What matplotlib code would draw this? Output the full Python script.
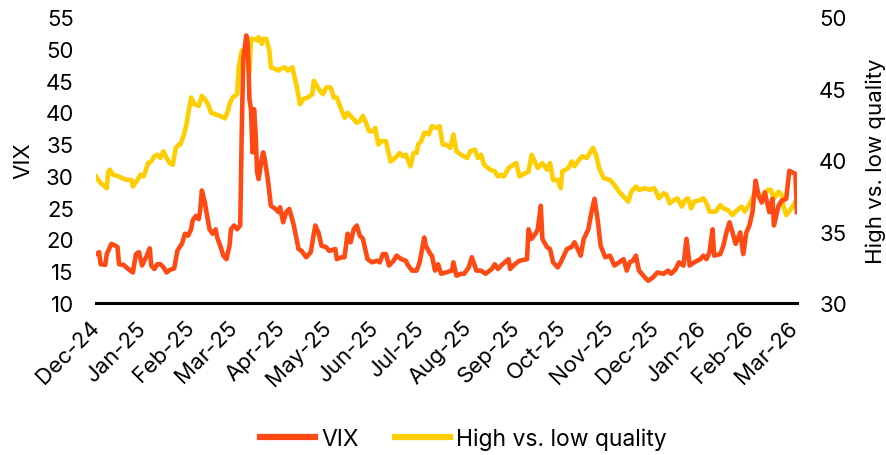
import matplotlib
matplotlib.use("Agg")
import matplotlib.pyplot as plt
import pandas as pd

# VIX (left axis)
vix_dates = [
  "2024-12-01", "2024-12-03", "2024-12-04", "2024-12-07", "2024-12-08", "2024-12-11", "2024-12-13",
  "2024-12-15", "2024-12-16", "2024-12-19", "2024-12-22", "2024-12-25", "2024-12-27", "2024-12-29",
  "2024-12-31", "2025-01-03", "2025-01-05", "2025-01-06", "2025-01-08", "2025-01-10", "2025-01-12",
  "2025-01-14", "2025-01-16", "2025-01-18", "2025-01-21", "2025-01-23", "2025-01-25", "2025-01-26",
  "2025-01-28", "2025-01-30", "2025-02-01", "2025-02-02", "2025-02-04", "2025-02-06", "2025-02-07",
  "2025-02-08", "2025-02-10", "2025-02-11", "2025-02-13", "2025-02-15", "2025-02-17", "2025-02-18",
  "2025-02-20", "2025-02-22", "2025-02-24", "2025-02-26", "2025-02-27", "2025-03-01", "2025-03-03",
  "2025-03-05", "2025-03-06", "2025-03-07", "2025-03-09", "2025-03-10", "2025-03-11", "2025-03-12",
  "2025-03-13", "2025-03-14", "2025-03-15", "2025-03-16", "2025-03-17", "2025-03-19", "2025-03-20",
  "2025-03-21", "2025-03-23", "2025-03-25", "2025-03-28", "2025-03-30", "2025-03-31", "2025-04-02",
  "2025-04-04", "2025-04-06", "2025-04-09", "2025-04-12", "2025-04-14", "2025-04-17", "2025-04-20",
  "2025-04-22", "2025-04-23", "2025-04-25", "2025-04-27", "2025-04-30", "2025-05-02", "2025-05-06",
  "2025-05-07", "2025-05-10", "2025-05-12", "2025-05-14", "2025-05-16", "2025-05-18", "2025-05-20",
  "2025-05-22", "2025-05-24", "2025-05-27", "2025-05-30", "2025-06-02", "2025-06-04", "2025-06-06",
  "2025-06-08", "2025-06-10", "2025-06-13", "2025-06-15", "2025-06-18", "2025-06-21", "2025-06-22",
  "2025-06-25", "2025-06-28", "2025-06-30", "2025-07-03", "2025-07-04", "2025-07-07", "2025-07-08",
  "2025-07-10", "2025-07-12", "2025-07-14", "2025-07-17", "2025-07-21", "2025-07-22", "2025-07-24",
  "2025-07-27", "2025-07-29", "2025-08-01", "2025-08-03", "2025-08-06", "2025-08-09", "2025-08-12",
  "2025-08-16", "2025-08-18", "2025-08-20", "2025-08-23", "2025-08-27", "2025-08-28", "2025-08-31",
  "2025-09-03", "2025-09-08", "2025-09-09", "2025-09-11", "2025-09-14", "2025-09-15", "2025-09-17",
  "2025-09-18", "2025-09-21", "2025-09-23", "2025-09-25", "2025-09-28", "2025-09-30", "2025-10-02",
  "2025-10-04", "2025-10-07", "2025-10-09", "2025-10-11", "2025-10-13", "2025-10-15", "2025-10-18",
  "2025-10-20", "2025-10-22", "2025-10-24", "2025-10-26", "2025-10-29", "2025-11-01", "2025-11-04",
  "2025-11-07", "2025-11-10", "2025-11-12", "2025-11-14", "2025-11-16", "2025-11-18", "2025-11-20",
  "2025-11-24", "2025-11-26", "2025-11-29", "2025-12-02", "2025-12-06", "2025-12-09", "2025-12-11",
  "2025-12-14", "2025-12-16", "2025-12-19", "2025-12-21", "2025-12-23", "2025-12-26", "2025-12-30",
  "2026-01-01", "2026-01-03", "2026-01-05", "2026-01-07", "2026-01-08", "2026-01-12", "2026-01-14",
  "2026-01-16", "2026-01-18", "2026-01-20", "2026-01-22", "2026-01-25", "2026-01-27", "2026-01-29",
  "2026-01-31", "2026-02-02", "2026-02-04", "2026-02-06", "2026-02-08", "2026-02-10", "2026-02-13",
  "2026-02-15", "2026-02-16", "2026-02-19", "2026-02-21", "2026-02-24", "2026-02-26", "2026-02-28",
  "2026-03-02", "2026-03-03",
]
vix_values = [
  17.7, 18.0, 16.1, 16.0, 17.7, 19.3, 19.1,
  18.8, 16.1, 16.0, 15.35, 14.8, 17.7, 18.0,
  15.9, 17.4, 18.6, 15.9, 15.35, 16.1, 16.1,
  15.6, 14.8, 15.2, 15.45, 18.2, 19.0, 19.3,
  20.9, 20.6, 21.6, 23.0, 23.7, 23.2, 24.8,
  27.7, 25.8, 24.3, 21.6, 20.9, 21.6, 20.3,
  19.0, 17.45, 16.9, 19.0, 21.6, 22.2, 21.6,
  22.2, 36.9, 48.4, 52.1, 50.5, 42.1, 40.5,
  33.7, 40.5, 36.9, 30.6, 29.5, 32.65, 33.7,
  32.65, 29.5, 25.3, 24.8, 24.3, 25.06, 22.7,
  24.3, 24.8, 22.2, 18.5, 18.2, 17.2, 18.0,
  20.9, 22.2, 21.1, 19.0, 18.8, 18.2, 18.5,
  16.9, 17.2, 17.2, 20.9, 19.55, 21.6, 22.2,
  20.6, 20.1, 16.9, 16.4, 16.65, 16.4, 17.7,
  17.7, 15.9, 16.65, 17.45, 16.9, 16.65, 16.1,
  15.1, 15.1, 16.4, 20.3, 19.0, 17.7, 17.45,
  15.1, 16.1, 14.6, 14.8, 15.1, 16.4, 14.3,
  14.6, 14.6, 15.6, 17.2, 15.1, 15.1, 14.6,
  15.35, 16.1, 15.35, 16.1, 16.9, 15.35, 16.1,
  16.65, 16.9, 21.6, 20.1, 21.1, 21.6, 25.3,
  20.1, 18.8, 18.5, 16.4, 15.6, 16.4, 17.45,
  18.5, 18.8, 19.55, 18.5, 17.45, 20.1, 21.6,
  24.3, 26.4, 23.2, 19.0, 17.2, 17.45, 15.9,
  16.4, 16.9, 15.1, 16.4, 16.65, 17.45, 15.1,
  14.0, 13.5, 14.0, 14.8, 14.6, 15.1, 14.6,
  15.35, 16.4, 15.9, 20.1, 15.9, 16.4, 16.9,
  17.45, 16.9, 18.0, 21.6, 17.45, 17.7, 19.0,
  21.1, 22.7, 21.1, 19.3, 21.1, 17.7, 21.1,
  22.2, 24.3, 29.25, 26.9, 25.8, 27.4, 24.3,
  26.4, 22.2, 25.3, 26.1, 26.4, 30.8, 30.56,
  30.3, 24.3,
]

# High vs. low quality (right axis)
hq_dates = [
  "2024-12-01", "2024-12-04", "2024-12-08", "2024-12-09", "2024-12-10", "2024-12-12", "2024-12-16",
  "2024-12-18", "2024-12-21", "2024-12-24", "2024-12-25", "2024-12-28", "2024-12-30", "2025-01-01",
  "2025-01-04", "2025-01-06", "2025-01-08", "2025-01-10", "2025-01-12", "2025-01-14", "2025-01-16",
  "2025-01-18", "2025-01-20", "2025-01-22", "2025-01-24", "2025-01-25", "2025-01-27", "2025-01-29",
  "2025-01-30", "2025-02-01", "2025-02-03", "2025-02-06", "2025-02-08", "2025-02-10", "2025-02-12",
  "2025-02-14", "2025-02-17", "2025-02-20", "2025-02-23", "2025-02-25", "2025-02-26", "2025-02-28",
  "2025-03-03", "2025-03-04", "2025-03-06", "2025-03-07", "2025-03-08", "2025-03-09", "2025-03-10",
  "2025-03-11", "2025-03-12", "2025-03-14", "2025-03-16", "2025-03-17", "2025-03-19", "2025-03-20",
  "2025-03-22", "2025-03-24", "2025-03-25", "2025-03-28", "2025-03-30", "2025-03-31", "2025-04-03",
  "2025-04-05", "2025-04-08", "2025-04-09", "2025-04-11", "2025-04-13", "2025-04-15", "2025-04-18",
  "2025-04-21", "2025-04-22", "2025-04-24", "2025-04-26", "2025-04-28", "2025-04-30", "2025-05-03",
  "2025-05-05", "2025-05-07", "2025-05-09", "2025-05-12", "2025-05-14", "2025-05-17", "2025-05-20",
  "2025-05-22", "2025-05-24", "2025-05-26", "2025-05-28", "2025-05-31", "2025-06-01", "2025-06-03",
  "2025-06-05", "2025-06-08", "2025-06-11", "2025-06-14", "2025-06-17", "2025-06-19", "2025-06-21",
  "2025-06-24", "2025-06-26", "2025-06-28", "2025-06-29", "2025-07-01", "2025-07-03", "2025-07-04",
  "2025-07-06", "2025-07-08", "2025-07-11", "2025-07-13", "2025-07-15", "2025-07-17", "2025-07-20",
  "2025-07-22", "2025-07-24", "2025-07-27", "2025-07-31", "2025-08-02", "2025-08-05", "2025-08-07",
  "2025-08-09", "2025-08-11", "2025-08-15", "2025-08-18", "2025-08-20", "2025-08-22", "2025-08-24",
  "2025-08-27", "2025-08-30", "2025-09-01", "2025-09-03", "2025-09-07", "2025-09-09", "2025-09-11",
  "2025-09-13", "2025-09-15", "2025-09-18", "2025-09-21", "2025-09-23", "2025-09-25", "2025-09-28",
  "2025-09-30", "2025-10-01", "2025-10-05", "2025-10-07", "2025-10-09", "2025-10-11", "2025-10-14",
  "2025-10-17", "2025-10-19", "2025-10-21", "2025-10-23", "2025-10-25", "2025-10-28", "2025-11-01",
  "2025-11-04", "2025-11-07", "2025-11-11", "2025-11-13", "2025-11-15", "2025-11-18", "2025-11-20",
  "2025-11-24", "2025-11-27", "2025-11-30", "2025-12-03", "2025-12-06", "2025-12-08", "2025-12-10",
  "2025-12-13", "2025-12-15", "2025-12-18", "2025-12-20", "2025-12-22", "2025-12-24", "2025-12-26",
  "2025-12-30", "2026-01-01", "2026-01-03", "2026-01-05", "2026-01-09", "2026-01-12", "2026-01-14",
  "2026-01-17", "2026-01-20", "2026-01-23", "2026-01-26", "2026-01-28", "2026-01-30", "2026-02-01",
  "2026-02-03", "2026-02-05", "2026-02-08", "2026-02-10", "2026-02-12", "2026-02-14", "2026-02-16",
  "2026-02-19", "2026-02-21", "2026-02-22", "2026-02-24", "2026-02-26", "2026-02-28", "2026-03-02",
  "2026-03-03",
]
hq_values = [
  38.85, 38.38, 38.03, 39.2, 39.32, 38.97, 38.85,
  38.73, 38.61, 38.61, 38.15, 38.61, 38.97, 38.85,
  39.79, 39.9, 40.26, 40.37, 40.14, 40.61, 40.14,
  39.79, 39.67, 40.85, 41.08, 41.08, 41.67, 42.49,
  43.19, 44.37, 43.9, 43.78, 44.49, 44.25, 43.9,
  43.31, 43.19, 43.08, 42.91, 43.43, 43.9, 44.37,
  44.6, 46.48, 47.65, 47.65, 47.42, 48.12, 46.71,
  46.13, 48.47, 48.47, 48.36, 48.59, 48.12, 48.47,
  48.47, 47.65, 46.48, 46.36, 46.25, 46.36, 46.48,
  46.25, 46.48, 46.01, 45.07, 43.9, 44.25, 44.37,
  44.6, 45.54, 45.19, 44.84, 44.6, 45.07, 45.07,
  44.37, 44.37, 43.78, 42.96, 43.31, 42.96, 42.61,
  42.72, 43.08, 42.61, 42.02, 42.02, 42.25, 41.08,
  41.32, 41.32, 39.9, 40.14, 40.49, 40.26, 40.37,
  39.56, 40.49, 40.49, 41.08, 41.32, 41.9, 41.9,
  41.79, 42.37, 42.25, 42.37, 41.08, 41.08, 40.85,
  41.79, 40.61, 40.37, 40.14, 40.61, 40.73, 40.14,
  40.37, 39.67, 39.32, 39.2, 38.85, 38.97, 38.85,
  39.44, 39.67, 39.79, 38.85, 39.08, 39.2, 40.37,
  39.9, 39.44, 39.79, 39.32, 39.79, 38.61, 38.61,
  38.03, 39.2, 39.44, 39.9, 39.56, 39.9, 40.26,
  40.14, 40.49, 40.85, 40.37, 39.44, 38.73, 38.61,
  38.26, 37.79, 37.32, 37.09, 37.79, 38.15, 37.91,
  38.03, 37.91, 38.03, 37.32, 37.68, 37.56, 36.97,
  37.2, 37.32, 36.74, 37.2, 37.32, 36.62, 37.09,
  37.2, 37.32, 36.97, 36.39, 36.39, 36.85, 36.62,
  36.5, 36.15, 36.5, 36.74, 36.39, 36.74, 37.09,
  37.56, 37.79, 37.32, 37.56, 37.91, 37.91, 37.32,
  37.79, 37.56, 36.85, 36.15, 36.39, 36.74, 37.09,
  36.5,
]

month_ticks = [
  "2024-12-01", "2025-01-01", "2025-02-01", "2025-03-01", "2025-04-01", "2025-05-01",
  "2025-06-01", "2025-07-01", "2025-08-01", "2025-09-01", "2025-10-01", "2025-11-01",
  "2025-12-01", "2026-01-01", "2026-02-01", "2026-03-01",
]
month_labels = [
  "Dec-24", "Jan-25", "Feb-25", "Mar-25", "Apr-25", "May-25", "Jun-25", "Jul-25",
  "Aug-25", "Sep-25", "Oct-25", "Nov-25", "Dec-25", "Jan-26", "Feb-26", "Mar-26",
]

RED = "#FF4A14"
YELLOW = "#FFCE00"

plt.rcParams["font.family"] = ["Inter", "DejaVu Sans"]
plt.rcParams["font.size"] = 16

fig = plt.figure(figsize=(8.86, 4.56), dpi=100)
ax = fig.add_axes([0.1084, 0.3333, 0.7911, 0.6272])
ax2 = ax.twinx()

ax2.plot(pd.to_datetime(hq_dates), hq_values, color=YELLOW, linewidth=3.3,
         solid_joinstyle="round", label="High vs. low quality")
ax.plot(pd.to_datetime(vix_dates), vix_values, color=RED, linewidth=3.3,
        solid_joinstyle="round", label="VIX")
# keep the VIX line drawn on top of the quality line
ax.set_zorder(ax2.get_zorder() + 1)
ax.patch.set_visible(False)

ax.set_xlim(pd.Timestamp("2024-12-01"), pd.Timestamp("2026-03-03"))
ax.set_ylim(10, 55)
ax2.set_ylim(30, 50)
ax.set_yticks(range(10, 56, 5))
ax2.set_yticks(range(30, 51, 5))

ax.set_xticks(pd.to_datetime(month_ticks))
ax.set_xticklabels(month_labels, rotation=45, ha="right", va="center",
                   rotation_mode="anchor")

for a in (ax, ax2):
  for side in ("top", "left", "right", "bottom"):
    a.spines[side].set_visible(False)
ax.spines["bottom"].set_visible(True)
ax.spines["bottom"].set_linewidth(2.2)
ax.spines["bottom"].set_color("black")

ax.tick_params(axis="y", length=0, pad=16)
ax.tick_params(axis="x", length=0, pad=15)
ax2.tick_params(axis="y", length=0, pad=16)

ax.set_ylabel("VIX", labelpad=9)
ax2.set_ylabel("High vs. low quality", labelpad=13)

handles = ax.get_lines() + ax2.get_lines()
leg = fig.legend(handles, [h.get_label() for h in handles], loc="center",
                 bbox_to_anchor=(0.523, 0.035), ncol=2, frameon=False,
                 handlelength=2.4, handletextpad=0.25, columnspacing=1.6,
                 fontsize=16.5)
for line in leg.get_lines():
  line.set_linewidth(4.5)

fig.savefig("out.png", dpi=100)
